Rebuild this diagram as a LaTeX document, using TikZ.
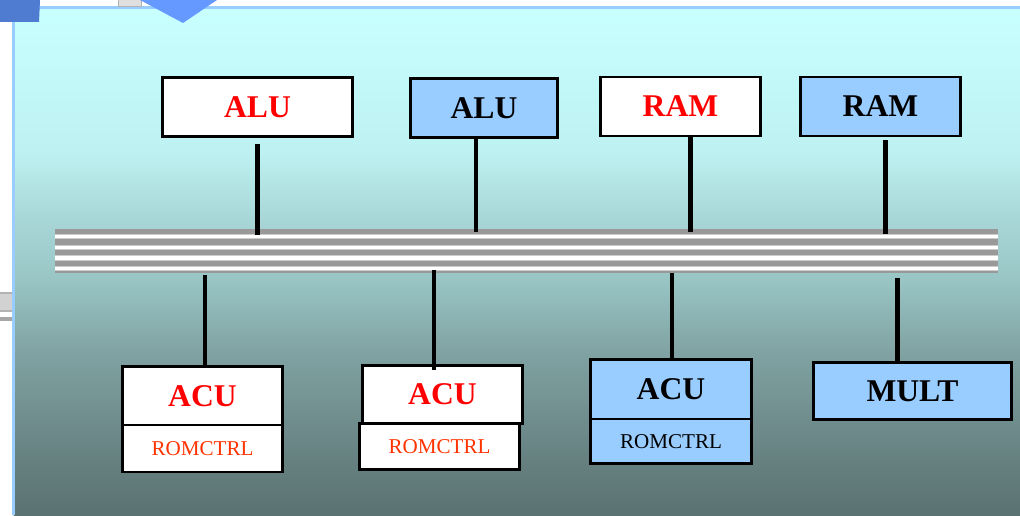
\documentclass[tikz,border=0pt]{standalone}
\usepackage{fontspec}
\setmainfont{Liberation Serif}
\usepackage{tikz}
\usetikzlibrary{positioning}

\definecolor{unitblue}{HTML}{99CCFF}
\definecolor{romred}{HTML}{FF3300}
\definecolor{busgray}{HTML}{999999}
\definecolor{frameblue}{HTML}{99CCFF}
\definecolor{tabblue}{HTML}{4F7BD0}
\definecolor{tipblue}{HTML}{6699FF}
% background fade, top to bottom
\definecolor{pctop}{HTML}{C8FFFF}
\definecolor{pcA}{HTML}{BEF2F2}
\definecolor{pcB}{HTML}{A8D6D6}
\definecolor{pcC}{HTML}{98C4C4}
\definecolor{pcD}{HTML}{80A2A2}
\definecolor{pcE}{HTML}{637C7C}
\definecolor{pcbot}{HTML}{5A7272}
\pgfdeclareverticalshading{panelfade}{100bp}{color(0bp)=(pcbot); color(25bp)=(pcbot); color(29bp)=(pcE); color(41bp)=(pcD); color(48bp)=(pcC); color(54bp)=(pcB); color(61bp)=(pcA); color(75bp)=(pctop); color(100bp)=(pctop)}

\begin{document}
\begin{tikzpicture}[
        % STYLES
        unit/.style={rectangle, draw=black, line width=1.7pt, outer sep=0pt, inner sep=0pt, minimum height=1.18cm, font=\fontsize{18}{21}\selectfont\bfseries},
        own/.style={unit, fill=white, text=red},
        shared/.style={unit, fill=unitblue, text=black},
        rom/.style={rectangle, draw=black, line width=1.7pt, outer sep=0pt, inner sep=0pt, minimum width=3.2cm, minimum height=0.94cm, font=\fontsize{12}{14}\selectfont},
        bus/.style={rectangle, fill=busgray, outer sep=0pt, inner sep=0pt, minimum width=18.86cm, minimum height=0.88cm},
        % LINES
        link/.style={line width=2.3pt, black}
    ]
    \useasboundingbox (0,0) rectangle (20.4,10.3);

    % ===================================
    % 0. Panel
    % ===================================
    \shade[shading=panelfade] (0.27,0) rectangle (20.4,10.15);
    \draw[frameblue, line width=1.7pt] (0.27,0) -- (0.27,10.15) -- (20.4,10.15);
    \fill[tabblue] (0,10.3) -- (0.8,10.3) -- (0.78,9.86) -- (0,9.86) -- cycle;
    \filldraw[fill=gray!25, draw=gray!60, line width=0.5pt] (2.37,10.17) rectangle (2.82,10.32);
    \fill[tipblue] (2.8,10.3) -- (4.34,10.3) -- (3.66,9.84) -- cycle;
    \fill[gray!35] (0,4.45) rectangle (0.24,4.09);
    \fill[gray!60] (0,4.45) rectangle (0.24,4.41);
    \fill[gray!60] (0,4.09) rectangle (0.24,4.05);
    \fill[gray!70] (0,3.95) rectangle (0.24,3.87);

    % ===================================
    % 1. Bus
    % ===================================
    \node[bus] (bus) at (10.53, 5.28) {};
    \foreach \k in {0,...,3} {
        \fill[gray!40] (1.1,{5.512-0.2134*\k}) rectangle (19.96,{5.620-0.2134*\k});
        \fill[white] (1.1,{5.534-0.2134*\k}) rectangle (19.96,{5.598-0.2134*\k});
    }

    % ===================================
    % 2. Units above the bus
    % ===================================
    \node[own, minimum width=3.8cm] (alu1) at (5.15, 8.16) {ALU};
    \node[shared, minimum width=2.94cm] (alu2) at (9.68, 8.14) {ALU};
    \node[own, minimum width=3.2cm] (ram1) at (13.61, 8.17) {RAM};
    \node[shared, minimum width=3.2cm] (ram2) at (17.61, 8.17) {RAM};

    % --- Units below the bus ---
    \node[own, minimum width=3.2cm, minimum height=1.17cm] (acu1) at (4.05, 2.385) {ACU};
    \node[rom, fill=white, text=romred, below=0pt of acu1] (rom1) {ROMCTRL};
    \node[own, minimum width=3.2cm, minimum height=1.16cm] (acu2) at (8.85, 2.41) {ACU};
    \node[rom, fill=white, text=romred, minimum height=0.92cm, below=0pt of acu2, xshift=-0.06cm] (rom2) {ROMCTRL};
    \node[shared, minimum width=3.22cm, minimum height=1.19cm] (acu3) at (13.42, 2.515) {ACU};
    \node[rom, fill=unitblue, minimum width=3.22cm, minimum height=0.89cm, below=0pt of acu3] (rom3) {ROMCTRL};
    \node[shared, minimum width=3.96cm, minimum height=1.14cm] (mult) at (18.25, 2.48) {MULT};

    % ===================================
    % 3. Taps on the bus
    % ===================================
    \coordinate (t1) at (5.15, 5.60);
    \coordinate (t2) at (9.52, 5.66);
    \coordinate (t3) at (13.81, 5.66);
    \coordinate (t4) at (17.71, 5.62);
    \coordinate (b1) at (4.10, 4.80);
    \coordinate (b2) at (8.68, 4.90);
    \coordinate (b3) at (13.44, 4.84);
    \coordinate (b4) at (17.95, 4.74);

    \draw[link, shorten <=0.15cm] (alu1.south -| t1) -- (t1);
    \draw[link] (alu2.south -| t2) -- (t2);
    \draw[link] (ram1.south -| t3) -- (t3);
    \draw[link, shorten <=0.08cm] (ram2.south -| t4) -- (t4);
    \draw[link] (b1) -- (acu1.north -| b1);
    \draw[link, shorten >=-0.1cm] (b2) -- (acu2.north -| b2);
    \draw[link] (b3) -- (acu3.north -| b3);
    \draw[link] (b4) -- (mult.north -| b4);

\end{tikzpicture}
\end{document}
